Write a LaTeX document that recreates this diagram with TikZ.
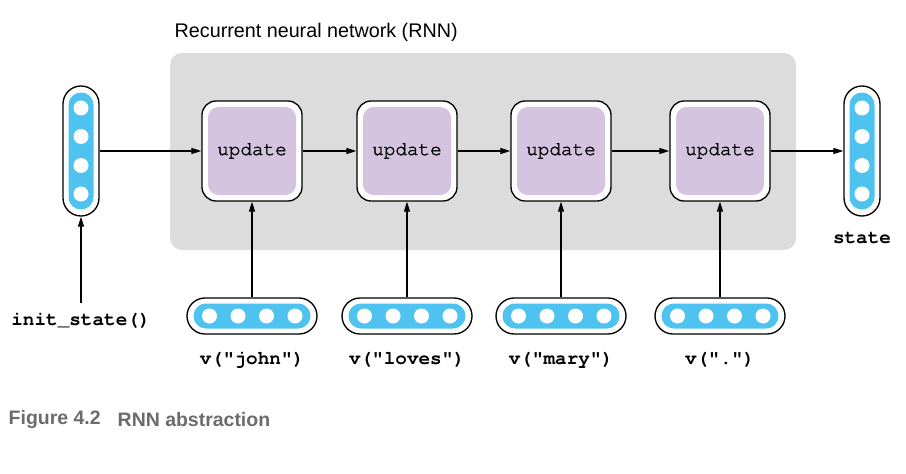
\documentclass[tikz,border=0pt]{standalone}
\usepackage{fontspec}
\setsansfont{Liberation Sans}
\setmonofont{TeX Gyre Cursor}
\newfontfamily\updfont{TeX Gyre Cursor}[FakeBold=1.6]
\usetikzlibrary{arrows.meta}
\definecolor{rnngray}{HTML}{DCDCDC}
\definecolor{vecblue}{HTML}{4EC3EF}
\definecolor{updpurple}{HTML}{D5C4DF}
\definecolor{capgray}{HTML}{6A6B6D}
\tikzset{
  arr/.style={-{Triangle[length=7.5pt,width=4.5pt]}, line width=0.9pt},
  updbox/.style={rectangle, draw, line width=1pt, fill=white, rounded corners=10.5pt, minimum size=75pt},
  updfill/.style={rectangle, fill=updpurple, rounded corners=8pt, minimum size=66pt, font=\fontsize{14.5}{16}\updfont},
  vecv/.style={rectangle, draw, line width=1pt, fill=white, rounded corners=13.5pt, minimum width=27pt, minimum height=97.5pt},
  vecvin/.style={rectangle, fill=vecblue, rounded corners=9.3pt, minimum width=18.75pt, minimum height=87.75pt},
  vech/.style={rectangle, draw, line width=1pt, fill=white, rounded corners=13.5pt, minimum width=97.5pt, minimum height=27pt},
  vechin/.style={rectangle, fill=vecblue, rounded corners=9.3pt, minimum width=87.75pt, minimum height=18.75pt},
  lbl/.style={font=\fontsize{14.5}{16}\ttfamily\bfseries}
}
\begin{document}
\begin{tikzpicture}[x=0.75pt, y=-0.75pt]
    \useasboundingbox (0,0) rectangle (906,474);
    % Frame of the network
    \node[anchor=west, font=\fontsize{14.8}{17}\sffamily] (title) at (170,32) {Recurrent neural network (RNN)};
    \node[rectangle, fill=rnngray, rounded corners=9pt, minimum width=469.5pt, minimum height=147.75pt] (rnn) at (483,151.5) {};

    % Update steps
    \foreach \i/\x in {1/252, 2/407, 3/561, 4/720} {
        \node[updbox] (u\i) at (\x,151) {};
        \node[updfill] (uf\i) at (\x,151) {update};
    }

    % State vectors
    \foreach \n/\x in {init/81, state/862} {
        \node[vecv] (\n) at (\x,151) {};
        \node[vecvin] (\n in) at (\x,151) {};
        \foreach \dy in {-43,-14.5,14.5,43}
            \fill[white] (\x,151+\dy) circle (7.5);
    }
    \node[lbl] (initlbl) at (81,321) {init\_state()};
    \node[lbl] (statelbl) at (862,238) {state};

    % Word vectors
    \foreach \i/\x/\w in {1/252/john, 2/407/loves, 3/561/mary, 4/720/.} {
        \node[vech] (x\i) at (\x,316) {};
        \node[vechin] (x\i in) at (\x,316) {};
        \foreach \dx in {-42.5,-14,14.5,43}
            \fill[white] (\x+\dx,316) circle (7.5);
        \node[lbl] (w\i) at (\x,360) {v("\w")};
    }

    \draw[arr] (init) -- (u1);
    \draw[arr] (u1) -- (u2);
    \draw[arr] (u2) -- (u3);
    \draw[arr] (u3) -- (u4);
    \draw[arr] (u4) -- (state);
    \draw[arr, shorten <=4pt] (initlbl) -- (init);
    \foreach \i in {1,2,3,4}
        \draw[arr] (x\i) -- (u\i);

    % Caption
    \node[anchor=west, font=\fontsize{14.6}{16}\sffamily\bfseries, text=capgray] (fig) at (4,420) {Figure 4.2};
    \node[anchor=west, font=\fontsize{14.6}{16}\sffamily\bfseries, text=capgray] (cap) at (113,420) {RNN abstraction};
\end{tikzpicture}
\end{document}
